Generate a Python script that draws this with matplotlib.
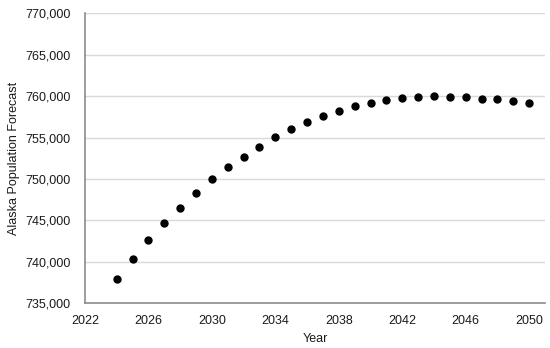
import matplotlib
matplotlib.use("Agg")
import matplotlib.pyplot as plt
from matplotlib.ticker import FuncFormatter

plt.rcParams['font.family'] = ['Liberation Sans', 'DejaVu Sans']

years = list(range(2024, 2051))
population = [737900, 740300, 742600, 744700, 746550, 748300, 749950, 751400,
              752700, 753900, 755050, 756000, 756850, 757600, 758250, 758800,
              759200, 759500, 759750, 759900, 760000, 759950, 759900, 759700,
              759600, 759400, 759150]
x_ticks = [2022, 2026, 2030, 2034, 2038, 2042, 2046, 2050]
y_ticks = list(range(735000, 770001, 5000))

fig = plt.figure(figsize=(5.5, 3.48), dpi=100)
ax = fig.add_axes([0.1545, 0.1284, 0.8365, 0.8334])

ax.plot(years, population, 'o', color='black', markersize=5, linestyle='none', zorder=3)

ax.set_xlim(2022, 2051)
ax.set_ylim(735000, 770000)
ax.set_xticks(x_ticks)
ax.set_yticks(y_ticks)
ax.yaxis.set_major_formatter(FuncFormatter(lambda v, p: f"{int(v):,}"))

ax.grid(axis='y', color='#d9d9d9', linewidth=1)
ax.set_axisbelow(True)
for s in ['top', 'right']:
    ax.spines[s].set_visible(False)
for s in ['left', 'bottom']:
    ax.spines[s].set_color('#8c8c8c')
    ax.spines[s].set_linewidth(1.2)
ax.tick_params(length=0, labelsize=9, colors='#1a1a1a')
ax.tick_params(axis='x', pad=8.5)
ax.tick_params(axis='y', pad=10.5)

ax.set_xlabel('Year', fontsize=9, color='#1a1a1a', labelpad=4)
ax.set_ylabel('Alaska Population Forecast', fontsize=9, color='#1a1a1a', labelpad=3.5)

fig.savefig('out.png', dpi=100)
